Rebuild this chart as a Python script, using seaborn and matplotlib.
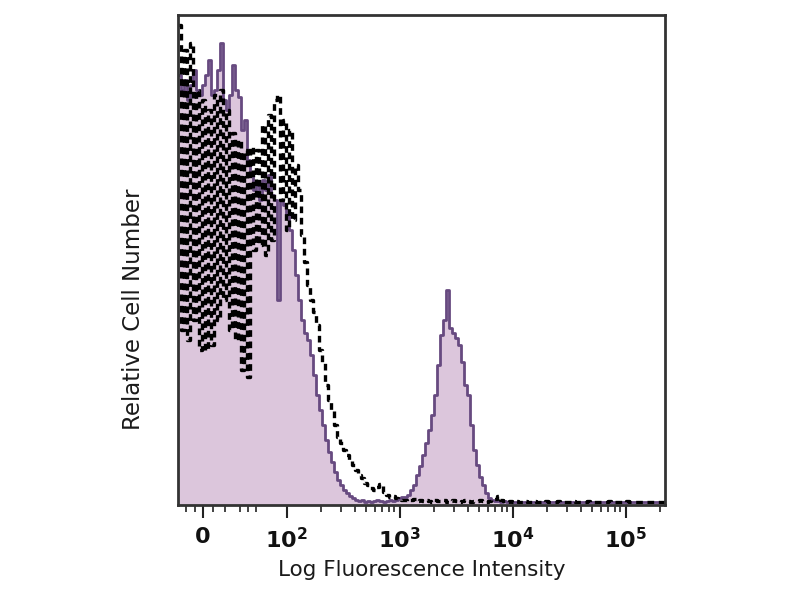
import numpy as np
import pandas as pd
import seaborn as sns
import matplotlib.pyplot as plt

# bin counts (relative cell number, arbitrary units)
# bins are evenly spaced on the biexponential-like display axis
isotype_counts = [
    480, 175, 455, 165, 462, 185, 415, 155, 405, 155,
    395, 160, 410, 185, 415, 205, 395, 175, 372, 165,
    365, 135, 355, 128, 358, 255, 355, 260, 380, 250,
    390, 265, 405, 410, 305, 385, 275, 375, 285, 340,
    315, 270, 243, 220, 205, 193, 180, 155, 143, 120,
    105, 95, 80, 68, 62, 55, 50, 45, 40, 35,
    30, 27, 22, 20, 17, 15, 18, 21, 13, 10,
    8, 9, 7, 6, 5, 5, 4, 5, 6, 4,
    5, 4, 5, 4, 3, 5, 4, 4, 5, 3,
    4, 5, 4, 3, 4, 5, 4, 3, 4, 4,
    5, 4, 3, 4, 5, 6, 9, 5, 4, 3,
    4, 3, 4, 3, 3, 4, 3, 3, 4, 3,
    3, 3, 4, 3, 3, 3, 4, 3, 3, 3,
    3, 4, 3, 3, 3, 3, 4, 3, 3, 3,
    3, 3, 3, 4, 3, 3, 3, 3, 3, 4,
    3, 3, 3, 3, 3, 3, 3, 3, 3, 3, 3, 3,
]
stained_counts = [
    430, 415, 425, 405, 420, 435, 415, 410, 420, 430,
    445, 410, 415, 435, 462, 405, 395, 410, 440, 415,
    408, 375, 385, 345, 330, 315, 320, 305, 325, 315,
    330, 310, 305, 205, 305, 300, 290, 275, 255, 230,
    205, 185, 172, 165, 150, 130, 110, 95, 80, 65,
    53, 43, 33, 25, 20, 15, 12, 9, 7, 5,
    4, 5, 3, 4, 3, 4, 5, 4, 3, 4,
    5, 4, 5, 7, 8, 8, 10, 15, 20, 30,
    39, 50, 62, 75, 90, 110, 140, 170, 185, 215,
    177, 172, 167, 160, 143, 120, 110, 80, 55, 40,
    28, 20, 12, 7, 5, 4, 4, 3, 4, 3,
    3, 3, 3, 3, 3, 3, 3, 3, 3, 3,
    3, 3, 3, 3, 3, 3, 3, 3, 3, 3,
    3, 3, 3, 3, 3, 3, 3, 3, 3, 3,
    3, 3, 3, 3, 3, 3, 3, 3, 3, 3,
    3, 3, 3, 3, 3, 3, 3, 3, 3, 3, 3, 3,
]

tick_values = [0, 1e2, 1e3, 1e4, 1e5]
tick_labels = ['0', '$10^2$', '$10^3$', '$10^4$', '$10^5$']
x_range = (-30, 2.24e5)

sns.set_style('white')
plt.rcParams['font.family'] = ['DejaVu Sans']
plt.rcParams['mathtext.fontset'] = 'dejavusans'
plt.rcParams['mathtext.default'] = 'bf'

fig = plt.figure(figsize=(8, 6), dpi=100)
ax = fig.add_axes([0.2225, 0.158, 0.609, 0.817])
ax.set_xscale('symlog', linthresh=100, linscale=0.666, base=10)
ax.set_xlim(*x_range)

# channels: uniform on the display scale (seaborn bins in scaled space)
tr = ax.xaxis.get_transform()
lo, hi = tr.transform(np.array(x_range, dtype=float))
scaled_edges = np.linspace(lo, hi, len(isotype_counts) + 1)
centers = tr.inverted().transform((scaled_edges[:-1] + scaled_edges[1:]) / 2)
bins = list(scaled_edges)

df = pd.DataFrame({'fl': centers, 'stained': stained_counts,
                   'isotype': isotype_counts})

fill_col = '#dcc6dc'
line_col = '#674a80'

sns.histplot(data=df, x='fl', weights='stained', bins=bins, element='step',
             fill=True, facecolor=fill_col, edgecolor='none', alpha=1, ax=ax)
sns.histplot(data=df, x='fl', weights='stained', bins=bins, element='step',
             fill=False, color=line_col, linewidth=2, ax=ax)
sns.histplot(data=df, x='fl', weights='isotype', bins=bins, element='step',
             fill=False, color='black', linewidth=2.4,
             linestyle=(0, (2, 1.4)), ax=ax)

ax.set_xlim(*x_range)
ax.set_ylim(0, 490)
ax.set_yticks([])

minor = [-20, -10, 12, 26, 44, 54, 63] + \
    [m * 10 ** e for e in (2, 3, 4) for m in range(2, 10)] + [2e5]
ax.set_xticks(minor, minor=True)
ax.set_xticks(tick_values)
ax.set_xticklabels(tick_labels)
ax.tick_params(axis='x', which='major', bottom=True, length=9, width=1.5,
               color='#222222', labelsize=16, labelcolor='#111111', pad=7)
ax.tick_params(axis='x', which='minor', bottom=True, length=5, width=1.2,
               color='#222222')
for lab in ax.get_xticklabels():
    lab.set_fontweight('bold')

for sp in ax.spines.values():
    sp.set_color('#333333')
    sp.set_linewidth(2)

ax.set_xlabel('Log Fluorescence Intensity', fontsize=15.5, color='#1a1a1a',
              labelpad=5)
ax.set_ylabel('Relative Cell Number', fontsize=16.5, color='#1a1a1a')
ax.yaxis.set_label_coords(-0.068, 0.40)

fig.savefig('out.png', dpi=100)
